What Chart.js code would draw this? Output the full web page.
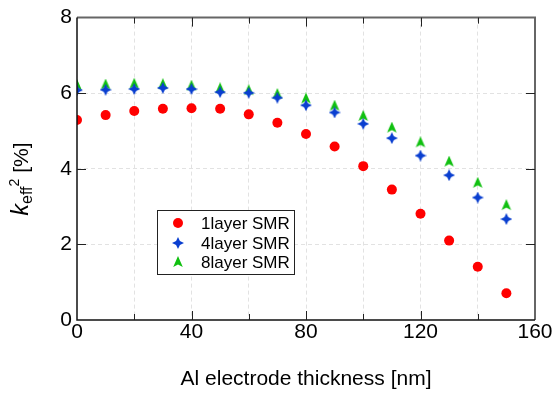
<!DOCTYPE html>
<html>
<head>
<meta charset="utf-8">
<script src="https://cdn.jsdelivr.net/npm/chart.js@4"></script>
<style>
  html, body { margin: 0; padding: 0; background: #fff; }
  #wrap { width: 554px; height: 394px; }
</style>
</head>
<body>
<div id="wrap"><canvas id="chart" width="554" height="394"></canvas></div>
<script>
// thickness of Al electrode [nm]
const thickness = [0, 10, 20, 30, 40, 50, 60, 70, 80, 90, 100, 110, 120, 130, 140, 150];
// keff^2 [%]
const layer1 = [5.29, 5.42, 5.53, 5.59, 5.60, 5.59, 5.44, 5.22, 4.92, 4.59, 4.07, 3.45, 2.81, 2.10, 1.41, 0.71];
const layer4 = [6.08, 6.09, 6.11, 6.14, 6.11, 6.03, 6.01, 5.88, 5.68, 5.49, 5.19, 4.81, 4.35, 3.83, 3.24, 2.67];
const layer8 = [6.22, 6.23, 6.25, 6.24, 6.20, 6.13, 6.08, 5.98, 5.86, 5.67, 5.40, 5.09, 4.70, 4.19, 3.63, 3.04];
const seriesNames = ["1layer SMR", "4layer SMR", "8layer SMR"];
const xTickLabels = ["0", "40", "80", "120", "160"];
const yTickLabels = ["0", "2", "4", "6", "8"];

const FONT = "Arial, 'Liberation Sans', sans-serif";

// custom marker shapes
function makeMarker(kind, color, size) {
  const c = document.createElement("canvas");
  c.width = size; c.height = size;
  const g = c.getContext("2d");
  const r = size / 2;
  g.translate(r, r);
  g.fillStyle = color;
  g.beginPath();
  if (kind == "star") {
    const k = r * 0.32;
    g.moveTo(0, -r);
    g.lineTo(k, -k);
    g.lineTo(r, 0);
    g.lineTo(k, k);
    g.lineTo(0, r);
    g.lineTo(-k, k);
    g.lineTo(-r, 0);
    g.lineTo(-k, -k);
  } else {
    g.moveTo(0, -r);
    g.lineTo(r * 0.8, r * 0.85);
    g.lineTo(0, r * 0.4);
    g.lineTo(-r * 0.8, r * 0.85);
  }
  g.closePath();
  g.fill();
  return c;
}

const starBlue = makeMarker("star", "#0a3fd0", 12);
const triGreen = makeMarker("tri", "#10c010", 12);

function pts(ys) {
  return thickness.map((x, i) => ({ x: x, y: ys[i] }));
}

const frame = {
  id: "frame",
  afterDraw(chart) {
    const ctx = chart.ctx;
    const a = chart.chartArea;
    const xs = chart.scales.x, ys = chart.scales.y;
    ctx.save();
    // top & right (grey, thicker)
    ctx.strokeStyle = "#666";
    ctx.lineWidth = 2;
    ctx.beginPath();
    ctx.moveTo(a.left, a.top); ctx.lineTo(a.right, a.top); ctx.lineTo(a.right, a.bottom);
    ctx.stroke();
    // left & bottom
    ctx.strokeStyle = "#111";
    ctx.lineWidth = 1.5;
    ctx.beginPath();
    ctx.moveTo(a.left, a.top); ctx.lineTo(a.left, a.bottom); ctx.lineTo(a.right, a.bottom);
    ctx.stroke();
    // inward ticks
    ctx.strokeStyle = "#222";
    ctx.lineWidth = 1;
    ctx.beginPath();
    for (let v = 20; v < 160; v += 20) {
      const px = Math.round(xs.getPixelForValue(v)) + 0.5;
      const len = v % 40 == 0 ? 9 : 6;
      ctx.moveTo(px, a.bottom); ctx.lineTo(px, a.bottom - len);
      ctx.moveTo(px, a.top); ctx.lineTo(px, a.top + len);
    }
    for (let v = 2; v < 8; v += 2) {
      const py = Math.round(ys.getPixelForValue(v)) + 0.5;
      ctx.moveTo(a.left, py); ctx.lineTo(a.left + 9, py);
      ctx.moveTo(a.right, py); ctx.lineTo(a.right - 9, py);
    }
    ctx.stroke();

    // x title
    ctx.fillStyle = "#000";
    ctx.font = "21px " + FONT;
    ctx.textAlign = "center";
    ctx.textBaseline = "alphabetic";
    ctx.fillText("Al electrode thickness [nm]", (a.left + a.right) / 2, 385);

    // y title  k_eff^2 [%]
    ctx.translate(28, 179);
    ctx.rotate(-Math.PI / 2);
    const parts = [
      { t: "k", f: "italic 23px " + FONT, dy: 0 },
      { t: "eff", f: "16px " + FONT, dy: 4 },
      { t: "2", f: "14px " + FONT, dy: -9 },
      { t: " [%]", f: "21px " + FONT, dy: 0 }
    ];
    const widths = [];
    parts.forEach(p => { ctx.font = p.f; widths.push(ctx.measureText(p.t).width); });
    const w = widths.reduce((s, v) => s + v, 0);
    let x = -w / 2;
    ctx.textAlign = "left";
    parts.forEach((p, i) => {
      ctx.font = p.f;
      ctx.fillText(p.t, x, p.dy);
      x += widths[i];
    });
    ctx.restore();

    // legend box
    ctx.save();
    ctx.fillStyle = "#fff";
    ctx.fillRect(157, 210, 138, 65);
    ctx.strokeStyle = "#222";
    ctx.lineWidth = 1;
    ctx.strokeRect(157.5, 210.5, 137, 64);
    const rowsY = [223, 243, 262];
    ctx.font = "17px " + FONT;
    ctx.textBaseline = "middle";
    ctx.textAlign = "left";
    seriesNames.forEach((name, i) => {
      const cy = rowsY[i];
      if (i == 0) {
        ctx.fillStyle = "#ff0000";
        ctx.beginPath(); ctx.arc(178, cy, 5, 0, Math.PI * 2); ctx.fill();
      } else {
        const img = i == 1 ? starBlue : triGreen;
        ctx.drawImage(img, 178 - 6, cy - 6);
      }
      ctx.fillStyle = "#000";
      ctx.fillText(name, 201, cy + 1);
    });
    ctx.restore();
  }
};

new Chart(document.getElementById("chart"), {
  type: "scatter",
  data: {
    datasets: [
      { label: seriesNames[0], data: pts(layer1), pointStyle: "circle", pointRadius: 5, backgroundColor: "#ff0000", borderWidth: 0 },
      { label: seriesNames[1], data: pts(layer4), pointStyle: starBlue, pointRadius: 6, backgroundColor: "#0a3fd0", borderWidth: 0 },
      { label: seriesNames[2], data: pts(layer8), pointStyle: triGreen, pointRadius: 6, backgroundColor: "#10c010", borderWidth: 0 }
    ]
  },
  options: {
    responsive: false,
    animation: false,
    layout: { padding: { top: 15, right: 19, left: 0, bottom: 0 } },
    plugins: { legend: { display: false }, tooltip: { enabled: false } },
    scales: {
      x: {
        type: "linear", min: 0, max: 160,
        afterFit: s => { s.height = 74; },
        ticks: {
          stepSize: 20, padding: 0, color: "#000",
          font: { size: 21, family: FONT },
          maxRotation: 0,
          callback: v => (v % 40 == 0 ? xTickLabels[v / 40] : "")
        },
        grid: {
          color: ctx => (ctx.tick && (ctx.tick.value == 0 || ctx.tick.value == 160) ? "rgba(0,0,0,0)" : "#e2e2e2"),
          lineWidth: 1, drawTicks: false
        },
        border: { display: false, dash: [4, 3] }
      },
      y: {
        min: 0, max: 8,
        afterFit: s => { s.width = 77; },
        ticks: {
          stepSize: 2, padding: 5, color: "#000",
          font: { size: 21, family: FONT },
          callback: v => yTickLabels[v / 2]
        },
        grid: {
          color: ctx => (ctx.tick && (ctx.tick.value == 0 || ctx.tick.value == 8) ? "rgba(0,0,0,0)" : "#e2e2e2"),
          lineWidth: 1, drawTicks: false
        },
        border: { display: false, dash: [4, 3] }
      }
    }
  },
  plugins: [frame]
});
</script>
</body>
</html>
